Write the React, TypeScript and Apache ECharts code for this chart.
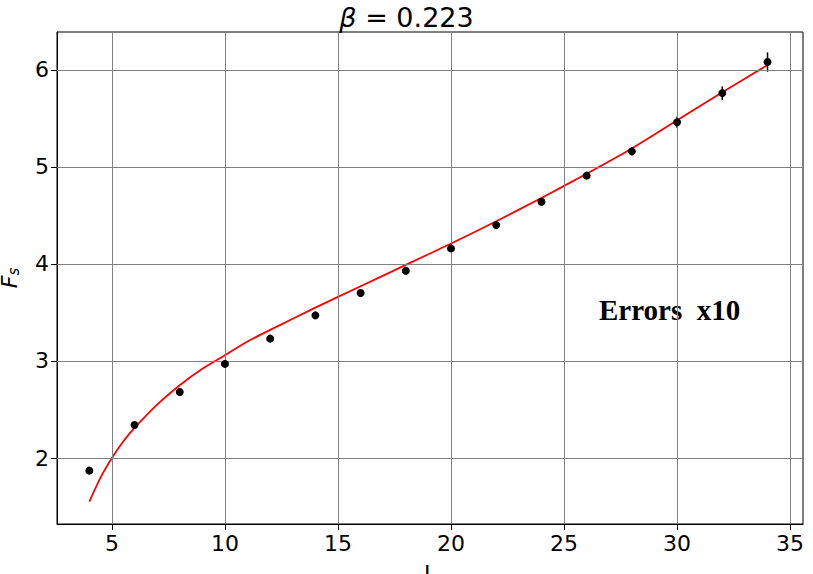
import React, { useEffect, useRef } from "react";
import * as echarts from "echarts";

const xData = [4, 6, 8, 10, 12, 14, 16, 18, 20, 22, 24, 26, 28, 30, 32, 34];
const yData = [1.87, 2.34, 2.68, 2.97, 3.23, 3.47, 3.70, 3.93, 4.16, 4.40, 4.64, 4.91, 5.16, 5.46, 5.76, 6.08];
const yErr = [0.01, 0.02, 0.02, 0.02, 0.02, 0.02, 0.02, 0.02, 0.03, 0.03, 0.03, 0.03, 0.04, 0.06, 0.07, 0.1];
const fitX = [4, 4.5, 5, 5.5, 6, 7, 8, 9, 10, 11, 12, 14, 16, 18, 20, 22, 24, 26, 28, 30, 32, 34];
const fitY = [1.55, 1.80, 2.0, 2.17, 2.31, 2.55, 2.75, 2.92, 3.06, 3.20, 3.32, 3.55, 3.77, 3.99, 4.21, 4.44, 4.68, 4.93, 5.19, 5.48, 5.77, 6.05];
const xTicks = [5, 10, 15, 20, 25, 30, 35];
const yTicks = [2, 3, 4, 5, 6];

export default function App() {
  const ref = useRef<HTMLDivElement>(null);
  useEffect(() => {
    document.body.style.margin = "0";
    const chart = echarts.init(ref.current!, null, { renderer: "svg" });
    const font = "DejaVu Sans";
    const gridLines = [
      ...xTicks.map((v) => ({ xAxis: v })),
      ...yTicks.map((v) => ({ yAxis: v })),
    ];
    chart.setOption({
      animation: false,
      title: {
        text: "{i|β} = 0.223",
        left: "center",
        top: -1,
        textStyle: {
          fontFamily: font, fontSize: 27, fontWeight: "normal", color: "#000",
          rich: { i: { fontStyle: "italic", fontFamily: font, fontSize: 27 } },
        },
      },
      grid: { left: 57, right: 10, top: 32, bottom: 50, show: true, borderColor: "#000", borderWidth: 1, outerBoundsMode: "none", containLabel: false },
      xAxis: {
        type: "value", min: 2.57, max: 35.57,
        name: "L", nameLocation: "middle", nameGap: 38,
        nameTextStyle: { fontFamily: font, fontSize: 22, color: "#000" },
        axisLine: { show: true, lineStyle: { color: "#000" } },
        axisTick: { show: true, inside: false, length: 6, customValues: xTicks, lineStyle: { color: "#000" } },
        axisLabel: { customValues: xTicks, fontFamily: font, fontSize: 22, color: "#000", margin: 8 },
        splitLine: { show: false },
      },
      yAxis: {
        type: "value", min: 1.32, max: 6.39,
        name: "{i|F}{s|s}", nameLocation: "middle", nameGap: 36,
        nameTextStyle: {
          fontFamily: font, fontSize: 22, color: "#000",
          rich: {
            i: { fontStyle: "italic", fontFamily: font, fontSize: 22 },
            s: { fontStyle: "italic", fontFamily: font, fontSize: 15, verticalAlign: "bottom", padding: [8, 0, 0, 0] },
          },
        },
        axisLine: { show: true, lineStyle: { color: "#000" } },
        axisTick: { show: true, inside: false, length: 6, customValues: yTicks, lineStyle: { color: "#000" } },
        axisLabel: { customValues: yTicks, fontFamily: font, fontSize: 22, color: "#000", margin: 8 },
        splitLine: { show: false },
      },
      graphic: [{
        type: "text", left: 599, top: 295,
        style: { text: "Errors  x10", font: "bold 29px 'Liberation Serif'", fill: "#000" },
      }],
      series: [
        {
          type: "line", data: fitX.map((x, i) => [x, fitY[i]]), smooth: 0.2, symbol: "none",
          lineStyle: { color: "#ff0000", width: 1.8 }, z: 3,
          markLine: {
            silent: true, symbol: "none", label: { show: false },
            lineStyle: { color: "#808080", width: 1, type: "solid" }, data: gridLines,
          },
        },
        {
          type: "custom", z: 4,
          data: xData.map((x, i) => [x, yData[i] - yErr[i], yData[i] + yErr[i]]),
          renderItem: (params: any, api: any) => {
            const lo = api.coord([api.value(0), api.value(1)]);
            const hi = api.coord([api.value(0), api.value(2)]);
            return { type: "line", shape: { x1: lo[0], y1: lo[1], x2: hi[0], y2: hi[1] }, style: { stroke: "#000", lineWidth: 1.5 } };
          },
        },
        {
          type: "scatter", data: xData.map((x, i) => [x, yData[i]]), symbolSize: 8,
          itemStyle: { color: "#000", opacity: 1 }, z: 5,
        },
      ],
    });
    return () => chart.dispose();
  }, []);
  return <div ref={ref} style={{ width: 813, height: 574 }} />;
}
